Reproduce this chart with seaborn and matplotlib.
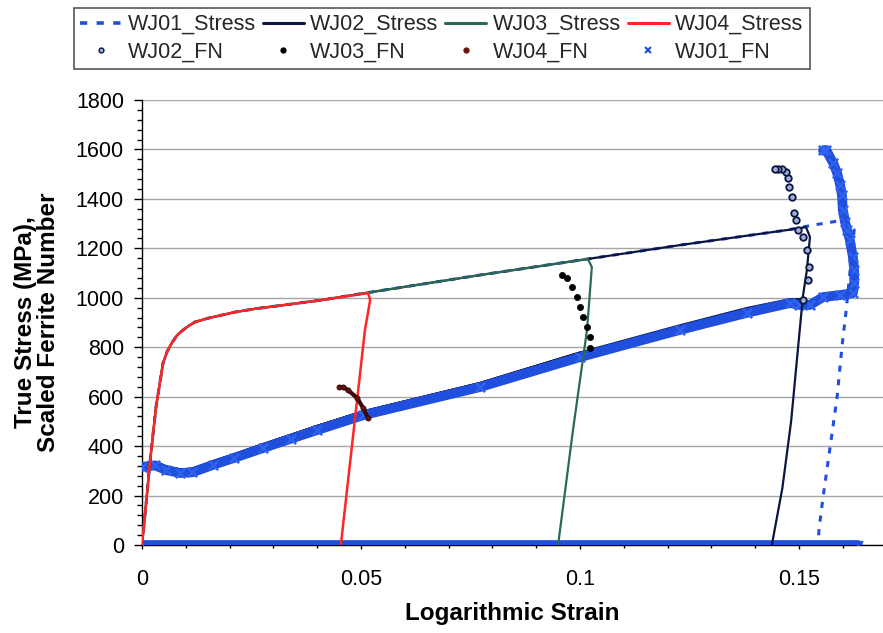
import matplotlib
matplotlib.use("Agg")
import matplotlib.pyplot as plt
import seaborn as sns
import pandas as pd
from matplotlib.lines import Line2D
from matplotlib.ticker import MultipleLocator, FixedLocator

sns.set_theme(style="white")
plt.rcParams["font.family"] = ["Liberation Sans", "DejaVu Sans"]

# ---------------- data ----------------
# common loading branch read for each test
WJ01_STRESS_X = [0, 0.001, 0.0018, 0.0032, 0.0048, 0.0058, 0.0068, 0.0080, 0.0094, 0.0108, 0.0121,
                 0.0150, 0.0180, 0.0212, 0.0260, 0.0326, 0.0411, 0.0509, 0.0772, 0.1018,
                 0.1228, 0.1473, 0.1532, 0.1605, 0.1626,
                 0.1607, 0.1598, 0.1587, 0.1571, 0.1555, 0.1546, 0.1543]
WJ01_STRESS_Y = [0, 180, 332, 558, 736, 785, 817, 848, 870, 888, 902,
                 917, 929, 942, 956, 971, 991, 1019, 1092, 1157,
                 1213, 1274, 1294, 1315, 1274,
                 938, 801, 599, 396, 194, 69, 0]
WJ02_STRESS_X = [0, 0.001, 0.0018, 0.0032, 0.0048, 0.0058, 0.0068, 0.0080, 0.0094, 0.0108, 0.0121,
                 0.0150, 0.0180, 0.0212, 0.0260, 0.0326, 0.0411, 0.0509, 0.0772, 0.1018,
                 0.1228, 0.1473, 0.1516, 0.1525, 0.1518, 0.1509, 0.1498, 0.1482, 0.1462, 0.1438]
WJ02_STRESS_Y = [0, 180, 332, 558, 736, 785, 817, 848, 870, 888, 902,
                 917, 929, 942, 956, 971, 991, 1019, 1092, 1157,
                 1213, 1274, 1286, 1246, 1112, 1007, 801, 500, 230, 0]
WJ03_STRESS_X = [0, 0.001, 0.0018, 0.0032, 0.0048, 0.0058, 0.0068, 0.0080, 0.0094, 0.0108, 0.0121,
                 0.0150, 0.0180, 0.0212, 0.0260, 0.0326, 0.0411, 0.0509, 0.0772, 0.1018,
                 0.1027, 0.1016, 0.0984, 0.0950]
WJ03_STRESS_Y = [0, 180, 332, 558, 736, 785, 817, 848, 870, 888, 902,
                 917, 929, 942, 956, 971, 991, 1019, 1092, 1157,
                 1124, 870, 465, 0]
WJ04_STRESS_X = [0, 0.001, 0.0018, 0.0032, 0.0048, 0.0058, 0.0068, 0.0080, 0.0094, 0.0108, 0.0121,
                 0.0150, 0.0180, 0.0212, 0.0260, 0.0326, 0.0411, 0.0516, 0.0521, 0.0509, 0.0454]
WJ04_STRESS_Y = [0, 180, 332, 558, 736, 785, 817, 848, 870, 888, 902,
                 917, 929, 942, 956, 971, 991, 1019, 991, 870, 0]

# WJ01 ferrite number (blue x markers)
WJ01_FN_X = [0, 0.003, 0.0055, 0.0087, 0.0115, 0.0162, 0.0210, 0.0276, 0.034, 0.040, 0.0505,
             0.0772, 0.1000, 0.1228, 0.1381, 0.1480, 0.1500, 0.1525, 0.1555, 0.1594, 0.1623,
             0.1626, 0.1626, 0.1623, 0.1616, 0.1610, 0.1605, 0.1600, 0.1598, 0.1594,
             0.1587, 0.1578, 0.1562, 0.1555]
WJ01_FN_Y = [316, 322, 303, 291, 294, 324, 352, 392, 430, 465, 525,
             639, 760, 870, 939, 979, 971, 971, 1003, 1011, 1019,
             1060, 1112, 1165, 1234, 1274, 1307, 1355, 1416, 1456,
             1505, 1545, 1598, 1596]
# WJ01 ferrite number readings at zero along the strain axis
WJ01_FN_ZERO_X = [0, 0.1635]
WJ01_FN_ZERO_Y = [0, 0]

# Dark ferrite-number trace shared by WJ02/WJ03/WJ04 (upper edge of the band)
FN_DARK_X = [0, 0.003, 0.0055, 0.0087, 0.0115, 0.0162, 0.0210, 0.0276, 0.034, 0.040, 0.0505,
             0.0772, 0.1000, 0.1228, 0.1381, 0.1480, 0.1509]
FN_DARK_Y = [326, 332, 314, 302, 305, 335, 363, 404, 442, 478, 537,
             652, 775, 885, 955, 991, 991]

# Hooks at the end of each test
WJ02_FN_HOOK_X = [0.1509, 0.1520, 0.1523, 0.1518, 0.1509, 0.1498, 0.1493, 0.1489, 0.1484,
                  0.1477, 0.1475, 0.1470, 0.1461, 0.1453, 0.1445]
WJ02_FN_HOOK_Y = [991, 1072, 1124, 1193, 1246, 1274, 1315, 1343, 1408,
                  1448, 1485, 1509, 1521, 1521, 1521]
WJ03_FN_HOOK_X = [0.1023, 0.1023, 0.1016, 0.1007, 0.1000, 0.0993, 0.0982, 0.0970, 0.0959]
WJ03_FN_HOOK_Y = [797, 841, 882, 922, 963, 1003, 1044, 1080, 1092]
WJ04_FN_HOOK_X = [0.0516, 0.0505, 0.0491, 0.0470, 0.0459, 0.0450]
WJ04_FN_HOOK_Y = [514, 554, 595, 627, 639, 639]

Y_TICKS = [0, 200, 400, 600, 800, 1000, 1200, 1400, 1600, 1800]
X_TICKS = [0, 0.05, 0.1, 0.15]
X_TICK_LABELS = ["0", "0.05", "0.1", "0.15"]

C01 = "#1f4fdc"
C02 = "#0b1540"
C03 = "#2d6a52"
C04 = "#ff2626"

# ---------------- figure ----------------
fig = plt.figure(figsize=(8.83, 6.33), dpi=100)
ax = fig.add_axes([142 / 883, 88 / 633, 741 / 883, 445 / 633])


def line(xs, ys, **kw):
    df = pd.DataFrame({"x": xs, "y": ys})
    sns.lineplot(data=df, x="x", y="y", sort=False, estimator=None, ax=ax, **kw)


def dots(xs, ys, **kw):
    df = pd.DataFrame({"x": xs, "y": ys})
    sns.scatterplot(data=df, x="x", y="y", ax=ax, **kw)


# FN series
line(WJ01_FN_ZERO_X, WJ01_FN_ZERO_Y, color=C01, lw=7, zorder=3)
dots(WJ01_FN_ZERO_X, WJ01_FN_ZERO_Y, color=C01, marker="x", s=40, linewidth=1.6, zorder=3)


def base_upto(xmax):
    xs = [x for x in FN_DARK_X if x <= xmax]
    ys = FN_DARK_Y[:len(xs)]
    return xs, ys


bx, by = base_upto(WJ02_FN_HOOK_X[0])
line(bx, by, color=C02, lw=2.8, zorder=2)
bx, by = base_upto(WJ03_FN_HOOK_X[0])
line(bx, by, color="black", lw=2.8, zorder=2)
bx, by = base_upto(WJ04_FN_HOOK_X[0])
line(bx, by, color="#4a0d0d", lw=2.8, zorder=2)

line(WJ01_FN_X, WJ01_FN_Y, color=C01, lw=7, zorder=3)
dots(WJ01_FN_X, WJ01_FN_Y, color="#2f62ee", marker="x", s=45, linewidth=1.8, zorder=3)

dots(WJ02_FN_HOOK_X, WJ02_FN_HOOK_Y, marker="o", s=22, facecolor="#9fb2d6",
     edgecolor=C02, linewidth=1.3, zorder=6)
dots(WJ03_FN_HOOK_X, WJ03_FN_HOOK_Y, marker="o", s=20, color="black",
     edgecolor="black", linewidth=0.5, zorder=6)
line(WJ04_FN_HOOK_X, WJ04_FN_HOOK_Y, color="#3a0a0a", lw=3, zorder=6)
dots(WJ04_FN_HOOK_X, WJ04_FN_HOOK_Y, marker="o", s=14, color="#5a1212",
     edgecolor="#3a0a0a", linewidth=0.5, zorder=6)

# stress series
line(WJ01_STRESS_X, WJ01_STRESS_Y, color=C01, lw=2.2, linestyle=(0, (2, 2.5)), zorder=4)
line(WJ02_STRESS_X, WJ02_STRESS_Y, color=C02, lw=1.6, zorder=4.1)
line(WJ03_STRESS_X, WJ03_STRESS_Y, color=C03, lw=1.6, zorder=4.2)
line(WJ04_STRESS_X, WJ04_STRESS_Y, color=C04, lw=1.8, zorder=4.3)

# ---------------- axes styling ----------------
ax.set_xlim(0, 741 / 4380)
ax.set_ylim(0, 1800)
ax.yaxis.set_major_locator(FixedLocator(Y_TICKS))
ax.yaxis.set_minor_locator(MultipleLocator(40))
ax.xaxis.set_major_locator(FixedLocator(X_TICKS))
ax.set_xticklabels(X_TICK_LABELS)
ax.xaxis.set_minor_locator(MultipleLocator(0.01))

ax.grid(False)
ax.yaxis.grid(True, which="major", color="#a6a6a6", lw=1.0, zorder=0)
ax.set_axisbelow(True)
for s in ["top", "right"]:
    ax.spines[s].set_visible(False)
for s in ["left", "bottom"]:
    ax.spines[s].set_visible(True)
    ax.spines[s].set_color("black")
    ax.spines[s].set_linewidth(1.0)

ax.tick_params(axis="both", which="both", bottom=True, left=True, colors="black")
ax.tick_params(axis="y", which="major", direction="out", length=6, width=1, pad=7, labelsize=15.5)
ax.tick_params(axis="y", which="minor", direction="out", length=3.5, width=1)
ax.tick_params(axis="x", which="major", direction="inout", length=6, width=1, pad=14, labelsize=15.5)
ax.tick_params(axis="x", which="minor", direction="inout", length=4, width=1)

ax.set_xlabel("Logarithmic Strain", fontsize=17.5, fontweight="bold", color="black")
ax.xaxis.set_label_coords(0.5, -0.128)
ax.set_ylabel("True Stress (MPa),\nScaled Ferrite Number", fontsize=17.5,
              fontweight="bold", color="black", multialignment="center", linespacing=1.0)
ax.yaxis.set_label_coords(-0.11, 0.5)

# ---------------- legend ----------------
h_w01s = Line2D([], [], color=C01, lw=2.6, linestyle=(0, (2, 2.6)))
h_w02s = Line2D([], [], color=C02, lw=2.2)
h_w03s = Line2D([], [], color=C03, lw=2.2)
h_w04s = Line2D([], [], color=C04, lw=2.2)
h_w02f = Line2D([], [], lw=0, marker="o", markersize=3.5, markerfacecolor="#9fb2d6",
                markeredgecolor=C02, markeredgewidth=1.0)
h_w03f = Line2D([], [], lw=0, marker="o", markersize=3.5, color="black")
h_w04f = Line2D([], [], lw=0, marker="o", markersize=3.5, color="#6a1414")
h_w01f = Line2D([], [], lw=0, marker="x", markersize=5, color=C01, markeredgewidth=1.5)

handles = [h_w01s, h_w02f, h_w02s, h_w03f, h_w03s, h_w04f, h_w04s, h_w01f]
labels = ["WJ01_Stress", "WJ02_FN", "WJ02_Stress", "WJ03_FN",
          "WJ03_Stress", "WJ04_FN", "WJ04_Stress", "WJ01_FN"]
leg = fig.legend(handles, labels, ncol=4, loc="lower left",
                 bbox_to_anchor=(74 / 883, 1 - 69 / 633, 736 / 883, 64 / 633),
                 mode="expand", fontsize=15.5, frameon=True, fancybox=False,
                 edgecolor="#555555", framealpha=1, borderpad=0.3,
                 handlelength=1.9, handletextpad=0.3, labelspacing=0.3,
                 columnspacing=0.5, borderaxespad=0)
leg.get_frame().set_linewidth(1.2)

fig.savefig("out.png", dpi=100)
